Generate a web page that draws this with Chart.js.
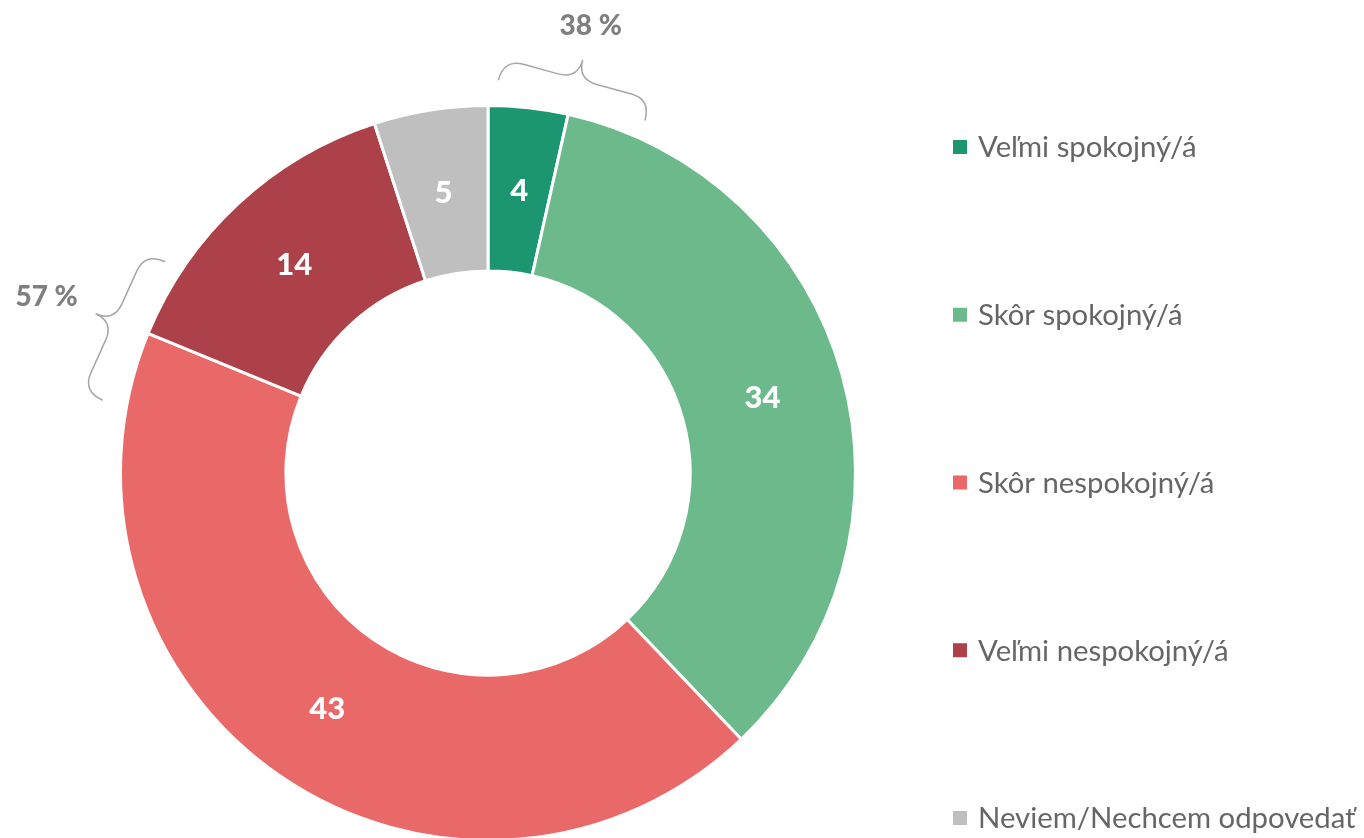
<!DOCTYPE html>
<html>
<head>
<meta charset="utf-8">
<title>Spokojnosť</title>
<script src="https://cdn.jsdelivr.net/npm/chart.js@4.4.1/dist/chart.umd.min.js"></script>
<style>
    html, body { margin: 0; padding: 0; background: #fff; overflow: hidden; }
    #wrap { position: relative; width: 1364px; height: 842px; }
</style>
</head>
<body>
<div id="wrap"><canvas id="satisfaction"></canvas></div>
<script>
var categories = ['Veľmi spokojný/á', 'Skôr spokojný/á', 'Skôr nespokojný/á', 'Veľmi nespokojný/á', 'Neviem/Nechcem odpovedať'];
// shares, labels show them rounded
var shares = [3.5, 34.4, 43.3, 13.8, 5.0];
var colors = ['#1c9571', '#6cba8b', '#e96868', '#ad4149', '#bfbfbf'];
// which segments each brace sums up
var groups = [[0, 1], [2, 3]];

// brace placement, angles in degrees clockwise from top, radius as factor of outer radius
var braces = [
    { from: 1.5, to: 24, rFrom: 1.069, rTo: 1.050, labelDx: 8, labelDy: -34 },
    { from: 303.2, to: 280.7, rFrom: 1.050, rTo: 1.067, labelDx: -49, labelDy: -17 }
];

var FONT = 'Lato, "Noto Sans", sans-serif';

function polar(cx, cy, deg, r) {
    var a = deg * Math.PI / 180;
    return { x: cx + r * Math.sin(a), y: cy - r * Math.cos(a) };
}

var segmentLabels = {
    id: 'segmentLabels',
    afterDatasetsDraw: function(chart) {
        var ctx = chart.ctx;
        var meta = chart.getDatasetMeta(0);
        ctx.save();
        ctx.fillStyle = '#ffffff';
        ctx.font = '900 31px ' + FONT;
        ctx.textAlign = 'center';
        ctx.textBaseline = 'middle';
        meta.data.forEach(function(arc, i) {
            var p = arc.getCenterPoint();
            ctx.fillText(String(Math.round(chart.data.datasets[0].data[i])), p.x, p.y + 1);
        });
        ctx.restore();
    }
};

var braceLabels = {
    id: 'braceLabels',
    afterDraw: function(chart) {
        var ctx = chart.ctx;
        var arc = chart.getDatasetMeta(0).data[0];
        var cx = arc.x, cy = arc.y, R = arc.outerRadius;
        var depth = 42, flat = 22, corner = 20;
        ctx.save();
        braces.forEach(function(b, k) {
            var A = polar(cx, cy, b.from, R * b.rFrom);
            var B = polar(cx, cy, b.to, R * b.rTo);
            var L = Math.hypot(B.x - A.x, B.y - A.y);
            var u = { x: (B.x - A.x) / L, y: (B.y - A.y) / L };
            var M = { x: (A.x + B.x) / 2, y: (A.y + B.y) / 2 };
            var n = { x: u.y, y: -u.x };
            if (n.x * (M.x - cx) + n.y * (M.y - cy) < 0) { n.x = -n.x; n.y = -n.y; }
            function pt(base, fu, fn) {
                return { x: base.x + u.x * fu + n.x * fn, y: base.y + u.y * fu + n.y * fn };
            }
            var c1 = pt(A, 0, flat), e1 = pt(A, corner, flat);
            var s2 = pt(M, -corner, flat), c2 = pt(M, 0, flat), tip = pt(M, 0, depth);
            var e3 = pt(M, corner, flat), s4 = pt(B, -corner, flat), c4 = pt(B, 0, flat);

            ctx.beginPath();
            ctx.moveTo(A.x, A.y);
            ctx.quadraticCurveTo(c1.x, c1.y, e1.x, e1.y);
            ctx.lineTo(s2.x, s2.y);
            ctx.quadraticCurveTo(c2.x, c2.y, tip.x, tip.y);
            ctx.quadraticCurveTo(c2.x, c2.y, e3.x, e3.y);
            ctx.lineTo(s4.x, s4.y);
            ctx.quadraticCurveTo(c4.x, c4.y, B.x, B.y);
            ctx.strokeStyle = '#a6a6a6';
            ctx.lineWidth = 1.5;
            ctx.stroke();

            var sum = 0;
            groups[k].forEach(function(i) { sum += shares[i]; });
            ctx.fillStyle = '#7f7f7f';
            ctx.font = '900 28px ' + FONT;
            ctx.textAlign = 'center';
            ctx.textBaseline = 'middle';
            ctx.fillText(Math.round(sum) + ' %', tip.x + b.labelDx, tip.y + b.labelDy);
        });
        ctx.restore();
    }
};

var sideLegend = {
    id: 'sideLegend',
    afterDraw: function(chart) {
        var ctx = chart.ctx;
        var items = chart.options.plugins.legend.labels.generateLabels(chart);
        var x = chart.chartArea.right - 23;
        var step = 167.75;
        var midY = 482.5;
        ctx.save();
        ctx.font = '29.3px ' + FONT;
        ctx.textBaseline = 'middle';
        ctx.textAlign = 'left';
        items.forEach(function(item, i) {
            var y = midY + (i - (items.length - 1) / 2) * step;
            ctx.fillStyle = item.fillStyle;
            ctx.fillRect(x, y - 7, 14, 14);
            ctx.fillStyle = '#666666';
            ctx.fillText(item.text, x + 25, y + 1);
        });
        ctx.restore();
    }
};

document.addEventListener('DOMContentLoaded', function() {
    var ctx = document.getElementById('satisfaction').getContext('2d');
    new Chart(ctx, {
        type: 'doughnut',
        data: {
            labels: categories,
            datasets: [{
                data: shares,
                backgroundColor: colors,
                borderColor: '#ffffff',
                borderWidth: 3,
                hoverBorderWidth: 3,
                hoverOffset: 0
            }]
        },
        options: {
            responsive: true,
            maintainAspectRatio: false,
            animation: false,
            cutout: '55%',
            layout: { padding: { top: 104, bottom: 0, left: 0, right: 388 } },
            plugins: {
                legend: { display: false },
                tooltip: { enabled: false }
            }
        },
        plugins: [segmentLabels, braceLabels, sideLegend]
    });
});
</script>
</body>
</html>
